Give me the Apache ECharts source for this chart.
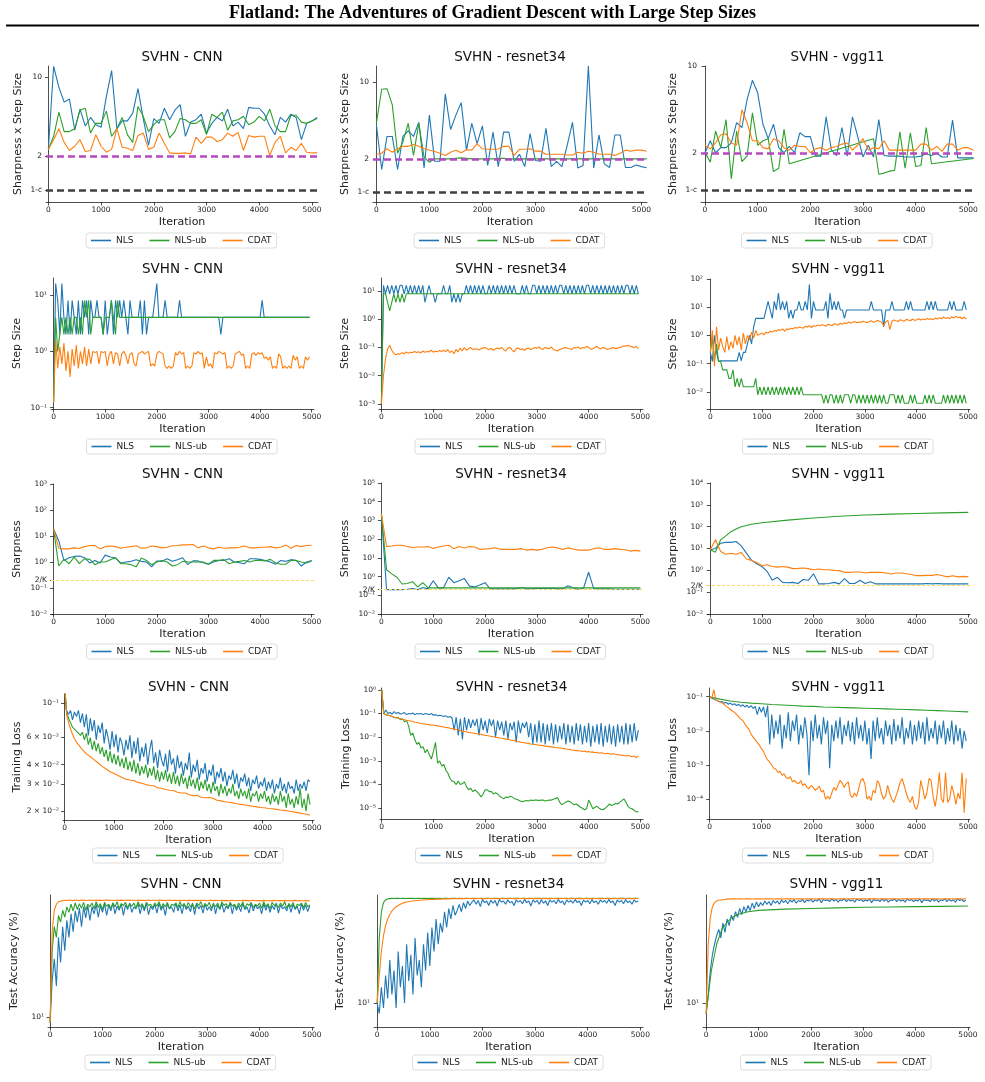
<!DOCTYPE html>
<html>
<head>
<meta charset="utf-8">
<title>Flatland - SVHN</title>
<script src="https://cdn.jsdelivr.net/npm/echarts@6.0.0/dist/echarts.min.js"></script>
<style>
  html, body { margin: 0; padding: 0; background: #fff; }
  #chart { width: 985px; height: 1082px; }
</style>
</head>
<body>
<div id="chart"></div>
<script>
// values (x spacing given where the arrays are used)
const SERIES_NAMES = ['NLS', 'NLS-ub', 'CDAT']
const ITER_TICKS = [0, 1000, 2000, 3000, 4000, 5000]

// row 1: sharpness x step size, every 100 iterations (0..5100)
const cnnSsNls = [2.32,12.4,8.1,6.0,6.4,3.4,5.2,3.7,4.4,3.8, 3.6,6.7,11.4,3.5,4.1,4.1,4.8,7.9,4.3,2.5, 4.3,3.9,5.3,4.2,5.1,5.7,3.0,4.0,4.2,4.7, 3.2,3.9,4.4,4.1,5.2,3.7,4.0,3.5,5.4,5.3, 5.3,4.7,3.7,3.1,4.4,4.0,4.7,4.4,2.8,3.9, 4.1,4.4]
const cnnSsUb = [2.3,3.0,4.9,3.3,3.3,3.5,5.1,5.3,3.2,3.9, 3.9,5.0,3.0,3.5,4.4,3.1,2.65,5.5,4.5,3.3, 3.8,4.2,4.2,2.9,3.3,4.3,4.2,3.9,3.9,4.2, 3.1,4.7,4.4,4.9,3.4,4.1,4.2,4.5,3.8,4.0, 4.5,4.1,5.2,3.7,3.3,3.3,4.6,4.6,4.0,3.9, 4.1,4.3]
const cnnSsCdat = [2.3,2.8,3.5,2.65,2.25,2.45,2.8,2.2,2.25,3.1, 2.45,2.17,2.3,3.5,2.4,2.35,2.25,3.05,3.2,2.3, 2.4,3.2,2.6,2.14,2.12,2.12,2.14,2.1,2.95,2.6, 2.95,2.95,2.7,2.8,3.2,3.0,3.25,2.25,3.05,2.95, 3.0,3.0,2.03,2.65,3.0,2.14,2.4,2.25,2.6,2.17, 2.14,2.14]
const resSsNls = [4.1,1.6,3.2,3.2,1.6,3.2,3.6,3.2,4.3,1.65, 5.0,1.9,1.9,7.8,3.7,5.0,6.5,2.4,4.2,2.75, 4.0,1.74,3.5,1.7,3.5,3.5,1.9,2.2,1.7,3.4, 1.93,1.9,3.8,1.7,1.9,1.7,2.65,4.3,1.65,1.74, 14.1,1.65,3.3,1.8,1.67,3.3,3.3,1.67,1.67,1.76, 1.7,1.66]
const resSsUb = [4.2,8.6,8.7,6.2,2.25,2.85,4.2,2.15,4.2,2.07, 1.86,2.0,2.0,2.0,2.0,2.02,2.04,2.02,2.0,2.0, 2.0,2.0,2.0,2.02,2.02,2.0,2.0,2.0,2.0,2.0, 2.0,2.0,2.0,2.0,2.0,2.0,2.0,2.0,2.0,2.0, 2.0,2.0,2.0,2.0,2.0,2.0,2.0,2.0,2.0,2.0, 2.0,2.0]
const resSsCdat = [2.2,2.25,2.47,2.3,2.47,2.6,2.6,2.7,2.6,2.47, 2.4,2.33,2.25,2.15,2.3,2.4,2.27,2.42,2.4,2.75, 2.47,2.45,2.45,2.46,2.6,2.6,2.15,2.45,2.45,2.47, 2.35,2.35,2.2,2.2,2.2,2.2,2.17,2.17,2.3,2.25, 2.35,2.3,2.2,2.2,2.2,2.15,2.25,2.4,2.35,2.4, 2.4,2.35]
const vggSsNls = [2.0,2.5,2.0,2.2,2.2,2.4,3.5,3.2,5.4,7.7, 6.1,3.4,2.6,3.4,2.2,2.0,2.25,2.0,2.9,2.7, 2.7,1.88,1.88,3.9,2.1,1.9,3.2,1.88,3.9,2.7, 1.85,2.3,1.85,3.7,1.9,1.88,1.88,1.88,1.85,1.85, 1.85,1.88,1.96,1.9,1.98,1.85,1.85,3.67,1.82,1.82, 1.82,1.82]
// NLS-ub on vgg11 has gaps in its samples: [iteration, value]
const vggSsUb = [[0,2.0],[100,1.68],[200,3.0],[300,2.2],[400,3.7],[500,1.23],[600,3.0],[700,1.7],[800,1.88],[900,4.2],[1000,2.3],[1100,2.5],[1200,2.6],[1300,1.41],[1400,1.5],[1500,3.1],[1600,1.63],[3200,2.6],[3300,1.34],[3400,1.37],[3500,1.42],[3600,1.44],[3700,2.95],[3800,1.5],[3900,2.9],[4000,1.55],[4100,1.58],[4200,3.2],[4300,1.63],[5100,1.8]]
const vggSsCdat = [2.3,2.15,2.4,2.8,2.85,2.4,2.3,4.45,3.5,2.5, 2.5,2.2,2.15,2.6,2.5,2.2,2.1,2.3,2.25,2.25, 2.0,2.15,2.2,2.1,2.2,2.25,2.35,2.4,2.1,2.3, 2.6,2.1,2.2,2.15,2.5,2.1,2.1,2.1,2.1,2.1, 2.1,2.35,2.35,2.1,2.25,2.05,2.35,2.35,2.1,2.2, 2.2,2.1]

// row 2: step size, every 40 iterations (0..4960)
const cnnStepNls = [0.125,16,8,2,16,4,2,8,2,8, 4,2,8,2,8,4,8,2,8,4, 4,8,4,4,2,8,2,4,8,2, 8,4,8,4,8,4,2,8,4,4, 4,4,8,2,8,2,4,4,4,8, 16,4,4,4,8,4,4,4,4,4, 4,8,4,4,4,4,4,4,4,4, 4,4,4,4,4,4,4,4,4,4, 4,2,4,4,4,4,4,4,4,4, 4,4,4,4,4,4,4,4,4,4, 4,8,4,4,4,4,4,4,4,4, 4,4,4,4,4,4,4,4,4,4, 4,4,4,4,4]
const cnnStepUb = [0.125,4,1,2,4,2,4,2,4,2, 4,4,2,4,2,8,4,8,2,4, 4,4,4,4,2,4,4,4,8,4, 2,8,4,4,4,4,4,4,4,4, 4,4,4,4,4,4,4,4,4,4, 4,4,4,4,4,4,4,4,4,4, 4,4,4,4,4,4,4,4,4,4, 4,4,4,4,4,4,4,4,4,4, 4,4,4,4,4,4,4,4,4,4, 4,4,4,4,4,4,4,4,4,4, 4,4,4,4,4,4,4,4,4,4, 4,4,4,4,4,4,4,4,4,4, 4,4,4,4,4]
const cnnStepCdat = [0.125,1.6,0.5,1.2,0.6,1.4,0.45,1.0,0.35,1.1, 0.55,1.3,0.5,1.0,0.6,1.2,0.55,1.1,0.6,1.0, 0.95,1.0,0.6,1.0,0.95,1.0,0.55,0.9,1.0,0.6, 0.95,0.9,0.55,0.9,1.0,0.85,0.6,0.9,0.95,0.6, 0.55,0.9,0.95,1.0,0.9,0.95,1.0,0.55,0.6,0.55, 0.9,1.0,0.95,0.9,0.55,0.5,0.55,0.5,0.55,0.95, 0.85,1.0,0.9,0.95,0.5,0.55,0.5,0.55,0.95,0.9, 1.0,0.9,0.95,0.5,0.8,0.55,0.6,0.5,0.95,0.9, 1.0,0.95,0.9,0.95,0.5,0.55,0.5,0.55,0.9,0.95, 1.0,0.85,0.9,0.5,0.55,0.5,0.9,0.95,0.85,0.95, 0.9,0.95,0.75,0.8,0.7,0.8,0.5,0.55,0.5,0.9, 0.8,0.5,0.55,0.5,0.55,0.5,0.85,0.7,0.8,0.5, 0.55,0.5,0.8,0.7,0.8]
const resStepNls = [0.001,16,8,16,8,16,8,16,8,16, 16,8,16,8,16,8,16,8,16,8, 16,4,8,16,8,8,4,8,8,8, 16,8,8,16,4,8,4,8,4,8, 8,16,8,16,8,16,8,16,8,16, 8,8,16,8,16,8,16,8,16,8, 16,8,16,8,16,8,8,8,16,8, 16,8,8,16,16,8,16,8,16,8, 16,8,16,8,16,8,16,16,8,16, 8,16,8,16,8,16,8,16,8,16, 16,8,16,8,16,8,16,8,16,8, 16,8,16,8,16,8,16,8,16,16, 8,16,8,16,8]
const resStepUb = [0.001,8,8,4,2,4,8,4,8,4, 8,4,8,8,8,8,8,8,8,8, 8,8,8,8,8,8,8,8,8,8, 8,8,8,8,8,8,8,8,8,8, 8,8,8,8,8,8,8,8,8,8, 8,8,8,8,8,8,8,8,8,8, 8,8,8,8,8,8,8,8,8,8, 8,8,8,8,8,8,8,8,8,8, 8,8,8,8,8,8,8,8,8,8, 8,8,8,8,8,8,8,8,8,8, 8,8,8,8,8,8,8,8,8,8, 8,8,8,8,8,8,8,8,8,8, 8,8,8,8,8]
const resStepCdat = [0.001,0.01,0.04,0.09,0.12,0.08,0.062,0.055,0.06,0.058, 0.065,0.06,0.07,0.062,0.068,0.065,0.072,0.066,0.07,0.064, 0.075,0.068,0.072,0.07,0.08,0.068,0.074,0.07,0.078,0.072, 0.08,0.07,0.085,0.066,0.075,0.06,0.085,0.07,0.095,0.075, 0.1,0.08,0.09,0.1,0.085,0.09,0.088,0.082,0.09,0.095, 0.1,0.09,0.085,0.092,0.08,0.09,0.095,0.088,0.1,0.085, 0.075,0.095,0.1,0.082,0.07,0.09,0.095,0.085,0.09,0.08, 0.09,0.095,0.085,0.09,0.1,0.092,0.105,0.09,0.085,0.1, 0.095,0.09,0.105,0.085,0.08,0.075,0.085,0.09,0.095,0.1, 0.092,0.09,0.085,0.1,0.095,0.105,0.09,0.1,0.095,0.11, 0.1,0.085,0.09,0.1,0.11,0.095,0.09,0.1,0.095,0.085, 0.09,0.095,0.1,0.09,0.095,0.1,0.105,0.115,0.11,0.12, 0.11,0.105,0.1,0.11,0.09]
const vggStepNls = [0.25,0.12,1,0.25,0.12,0.125,0.125,0.125,0.125,0.125, 0.125,0.125,0.125,0.125,0.25,0.125,0.25,0.25,0.5,1, 0.5,2,4,4,4,4,4,8,16,8, 4,16,8,32,8,16,8,16,4,8, 4,8,8,16,8,8,16,8,64,4, 16,8,8,8,8,8,16,4,32,8, 16,8,16,8,8,4,8,8,8,8, 8,8,8,8,8,8,8,8,16,8, 8,8,8,8,2,8,8,8,16,8, 8,8,8,8,8,16,8,16,8,8, 8,8,8,8,8,16,8,16,8,16, 8,8,8,8,8,8,16,8,16,8, 8,8,8,16,8]
const vggStepUb = [0.25,0.8,0.12,0.5,0.12,0.12,0.06,0.06,0.06,0.03, 0.03,0.06,0.015,0.03,0.015,0.03,0.015,0.015,0.015,0.015, 0.015,0.015,0.03,0.0078,0.015,0.0078,0.015,0.0078,0.015,0.0078, 0.015,0.0078,0.015,0.0078,0.015,0.0078,0.015,0.0078,0.015,0.0078, 0.015,0.0078,0.015,0.0078,0.015,0.0078,0.0078,0.0078,0.0078,0.0078, 0.0078,0.0078,0.0078,0.0078,0.0078,0.0039,0.0078,0.0039,0.0078,0.0078, 0.0039,0.0078,0.0039,0.0078,0.0039,0.0078,0.0078,0.0078,0.0039,0.0078, 0.0078,0.0039,0.0078,0.0039,0.0078,0.0039,0.0078,0.0039,0.0078,0.0039, 0.0078,0.0039,0.0078,0.0039,0.0078,0.0039,0.0039,0.0078,0.0078,0.0078, 0.0039,0.0078,0.0039,0.0078,0.0039,0.0039,0.0039,0.0078,0.0039,0.0078, 0.0039,0.0039,0.0039,0.0039,0.0078,0.0039,0.0078,0.0039,0.0078,0.0039, 0.0039,0.0039,0.0039,0.0078,0.0039,0.0078,0.0039,0.0078,0.0039,0.0078, 0.0039,0.0078,0.0039,0.0078,0.0039]
const vggStepCdat = [0.25,1.5,0.08,2,0.3,0.8,0.4,0.25,0.9,0.3, 0.6,0.35,1.0,0.45,0.9,0.3,1.2,0.5,1.0,0.7, 1.3,0.8,1.5,1.0,1.1,1.2,1.05,1.3,1.2,1.4, 1.3,1.5,1.4,1.6,1.5,1.7,1.4,1.7,1.6,1.8, 1.7,1.9,1.8,2.0,1.9,1.8,2.1,2.0,2.2,1.9, 2.2,2.1,2.3,2.2,2.4,2.3,2.1,2.5,2.4,2.2, 2.6,2.5,2.3,2.7,2.5,2.8,2.6,3.0,2.7,2.9, 3.1,2.8,3.0,2.9,3.2,3.0,2.8,3.1,3.3,2.9, 3.1,3.4,3.2,2.9,2.2,3.0,3.4,1.6,3.2,3.5, 3.3,3.1,3.6,3.4,3.2,3.7,3.5,3.3,3.8,3.4, 3.6,3.9,3.5,3.8,3.6,4.0,3.7,3.9,3.6,4.1, 3.8,4.2,3.9,4.5,4.0,4.3,3.9,4.6,4.1,4.8, 4.2,4.5,3.9,4.4,3.8]

// row 3: sharpness, every 100 iterations (0..5000)
const cnnSharpNls = [18.5,6.6,1.15,1.46,1.64,1.7,1.46,0.92,1.15,0.92, 1.84,1.55,1.42,0.92,1.0,1.06,1.23,1.06,1.0,0.65, 1.1,1.06,1.34,1.06,1.23,1.46,0.79,1.1,1.1,0.94, 0.82,1.0,1.15,1.15,1.34,1.0,0.94,0.86,1.34,1.34, 1.26,1.15,1.0,0.82,1.15,1.06,1.23,1.15,0.7,1.0, 1.15]
const cnnSharpUb = [18.5,0.7,1.26,0.86,1.55,0.86,1.34,1.26,0.79,1.0, 1.0,1.23,1.46,0.86,0.86,0.79,0.65,1.42,1.15,0.79, 1.0,1.15,1.0,0.7,0.79,1.06,1.0,1.0,1.0,1.0, 0.82,1.15,1.15,1.23,0.86,1.0,1.06,1.15,1.0,1.15, 1.15,1.1,1.26,0.92,0.82,0.82,1.15,1.15,1.0,0.92, 1.1]
const cnnSharpCdat = [18.5,3.4,3.2,3.2,3.5,3.3,3.9,4.3,4.3,3.2, 3.9,4.1,3.9,3.4,3.7,3.9,4.2,3.4,3.5,4.1, 3.9,3.5,3.7,4.2,4.3,4.55,4.55,4.7,3.5,4.1, 3.5,3.2,3.7,3.4,3.5,3.5,3.7,4.1,3.5,3.5, 3.7,3.7,3.9,3.5,3.7,4.55,3.4,4.3,3.9,4.3, 4.4]
const resSharpNls = [2300,0.2,0.2,0.2,0.2,0.21,0.23,0.2,0.26,0.22, 0.6,0.25,0.25,0.92,0.47,0.6,0.8,0.31,0.28,0.35, 0.47,0.22,0.22,0.22,0.22,0.22,0.22,0.26,0.22,0.22, 0.23,0.23,0.23,0.23,0.22,0.22,0.32,0.25,0.21,0.23, 1.7,0.22,0.22,0.22,0.22,0.21,0.21,0.21,0.21,0.21, 0.21]
const resSharpUb = [2300,2.3,1.4,0.92,0.4,0.43,0.53,0.28,0.47,0.25, 0.25,0.25,0.25,0.25,0.25,0.25,0.25,0.25,0.25,0.25, 0.25,0.25,0.25,0.25,0.25,0.25,0.25,0.25,0.25,0.25, 0.25,0.25,0.25,0.25,0.25,0.25,0.25,0.25,0.25,0.25, 0.25,0.25,0.25,0.25,0.25,0.25,0.25,0.25,0.25,0.25, 0.25]
const resSharpCdat = [2300,40,43,47,47,40,36,38,38,40, 32,38,43,47,31,40,34,40,38,28.5, 30,31,35,28.5,28.5,28.5,28.5,31,26,28.5, 26,28.5,35,38,34,28.5,34,30,26,26, 26,31,35,28.5,28.5,31,28.5,27,23,25, 23]
const vggSharpNls = [8.7,10,17.5,19,19,21,13.2,6.1,2.85,2.0, 1.5,0.9,0.35,0.48,0.28,0.27,0.28,0.25,0.38,0.35, 0.7,0.24,0.24,0.25,0.28,0.24,0.42,0.25,0.25,0.35, 0.25,0.3,0.24,0.24,0.24,0.24,0.24,0.24,0.24,0.24, 0.24,0.24,0.25,0.24,0.25,0.24,0.24,0.24,0.24,0.24, 0.24]
const vggSharpUb = [[0,8.7],[100,6.8],[200,25],[300,38],[400,59],[500,78],[600,100],[800,128],[1000,150],[1500,200],[2000,250],[2500,300],[3000,340],[3500,375],[4000,400],[4500,430],[5000,450]]
const vggSharpCdat = [8.7,25,7.3,5.5,6.1,5.5,6.6,3.3,2.85,2.3, 1.63,1.8,1.5,1.4,1.5,1.4,1.2,1.23,1.27,1.2, 1.07,1.15,1.07,1.07,1.0,0.97,0.81,0.81,0.84,0.84, 0.76,0.81,0.81,0.81,0.76,0.68,0.76,0.76,0.7,0.64, 0.57,0.57,0.59,0.59,0.64,0.57,0.5,0.57,0.5,0.53, 0.5]

// row 4: training loss, every 40 iterations (0..4960)
const cnnLossNls = [0.13,0.09,0.085,0.09,0.078,0.088,0.082,0.09,0.075,0.086, 0.07,0.085,0.062,0.08,0.066,0.078,0.058,0.072,0.064,0.075, 0.055,0.068,0.06,0.05,0.066,0.052,0.063,0.048,0.06,0.055, 0.046,0.058,0.05,0.062,0.044,0.057,0.047,0.06,0.042,0.052, 0.045,0.055,0.04,0.05,0.058,0.041,0.048,0.038,0.05,0.043, 0.039,0.047,0.036,0.05,0.04,0.044,0.035,0.046,0.038,0.042, 0.034,0.041,0.037,0.048,0.033,0.04,0.036,0.043,0.032,0.038, 0.035,0.041,0.031,0.037,0.034,0.04,0.03,0.036,0.033,0.038, 0.031,0.036,0.029,0.034,0.032,0.037,0.03,0.035,0.028,0.033, 0.031,0.035,0.029,0.033,0.027,0.032,0.03,0.034,0.028,0.031, 0.029,0.033,0.027,0.031,0.028,0.032,0.026,0.03,0.028,0.033, 0.027,0.03,0.026,0.031,0.028,0.029,0.026,0.032,0.027,0.03, 0.028,0.031,0.027,0.032,0.031]
const cnnLossUb = [0.13,0.088,0.08,0.075,0.07,0.072,0.066,0.068,0.062,0.065, 0.058,0.064,0.054,0.06,0.05,0.057,0.049,0.055,0.047,0.052, 0.045,0.05,0.042,0.049,0.041,0.047,0.04,0.046,0.039,0.044, 0.038,0.045,0.037,0.042,0.036,0.043,0.035,0.041,0.034,0.039, 0.035,0.04,0.033,0.038,0.034,0.039,0.032,0.037,0.031,0.036, 0.032,0.037,0.031,0.035,0.03,0.036,0.03,0.034,0.029,0.035, 0.03,0.033,0.028,0.034,0.029,0.032,0.028,0.033,0.027,0.031, 0.028,0.032,0.027,0.03,0.026,0.031,0.027,0.029,0.025,0.03, 0.026,0.029,0.025,0.028,0.026,0.03,0.025,0.027,0.024,0.028, 0.025,0.027,0.024,0.028,0.023,0.026,0.025,0.027,0.023,0.026, 0.024,0.027,0.023,0.025,0.022,0.026,0.023,0.025,0.022,0.027, 0.023,0.025,0.021,0.026,0.022,0.024,0.021,0.025,0.022,0.028, 0.021,0.024,0.02,0.026,0.022]
const cnnLossCdat = [0.13,0.085,0.075,0.068,0.063,0.059,0.056,0.054,0.052,0.05, 0.049,0.047,0.046,0.045,0.044,0.043,0.042,0.041,0.04,0.039, 0.038,0.0375,0.037,0.036,0.0355,0.035,0.0348,0.034,0.0336,0.033, 0.0327,0.0322,0.0325,0.0318,0.0314,0.0316,0.031,0.0307,0.031,0.0303, 0.03,0.0297,0.03,0.0293,0.029,0.0292,0.0286,0.0283,0.0286,0.0281, 0.028,0.0276,0.0279,0.0273,0.027,0.0272,0.0267,0.0265,0.0268,0.0262, 0.026,0.0262,0.0257,0.0255,0.0258,0.0252,0.025,0.0253,0.0248,0.0246, 0.0248,0.0244,0.0242,0.0245,0.024,0.0242,0.0237,0.0235,0.0238,0.0233, 0.0235,0.023,0.0232,0.0228,0.023,0.0226,0.0227,0.0223,0.0225,0.0221, 0.0222,0.0219,0.0221,0.0217,0.0218,0.0215,0.0217,0.0213,0.0215,0.0211, 0.0214,0.021,0.0212,0.0208,0.021,0.0207,0.0209,0.0205,0.0207,0.0203, 0.0205,0.0202,0.0204,0.02,0.0201,0.0198,0.02,0.0196,0.0197,0.0194, 0.0195,0.0192,0.0193,0.019,0.0188]
const resLossNls = [1.0,0.1,0.14,0.1,0.11,0.095,0.12,0.1,0.11,0.095, 0.1,0.11,0.09,0.1,0.095,0.105,0.09,0.1,0.095,0.1, 0.09,0.1,0.095,0.09,0.1,0.085,0.09,0.08,0.085,0.08, 0.075,0.08,0.07,0.075,0.065,0.02,0.07,0.012,0.06,0.008, 0.07,0.02,0.06,0.025,0.055,0.03,0.06,0.012,0.065,0.02, 0.05,0.015,0.06,0.03,0.055,0.01,0.05,0.02,0.045,0.012, 0.05,0.008,0.04,0.02,0.045,0.006,0.05,0.015,0.04,0.025, 0.045,0.01,0.04,0.005,0.035,0.006,0.05,0.006,0.04,0.005, 0.035,0.007,0.04,0.005,0.035,0.006,0.03,0.008,0.04,0.005, 0.035,0.006,0.03,0.005,0.04,0.007,0.035,0.005,0.03,0.006, 0.04,0.004,0.03,0.006,0.035,0.005,0.04,0.004,0.03,0.006, 0.035,0.005,0.03,0.004,0.035,0.006,0.03,0.005,0.04,0.005, 0.035,0.006,0.04,0.007,0.02]
const resLossUb = [1.0,0.1,0.09,0.085,0.08,0.075,0.07,0.065,0.068,0.055, 0.06,0.045,0.05,0.03,0.012,0.015,0.008,0.005,0.006,0.0035, 0.004,0.0022,0.003,0.0018,0.0012,0.0025,0.006,0.0008,0.001,0.0006, 0.0007,0.0004,0.0003,0.00018,0.00014,0.00013,0.0001,0.00014,0.0001,0.00011, 0.00013,0.00008,0.00006,0.00007,0.00005,0.00006,0.00005,0.00004,0.00003,0.00004, 0.00006,0.00006,0.00005,0.00005,0.00004,0.000045,0.00004,0.000032,0.000028,0.000025, 0.00003,0.000028,0.000032,0.00003,0.000026,0.000024,0.000022,0.00002,0.000019,0.00002, 0.000021,0.00002,0.000022,0.000021,0.000022,0.000022,0.000021,0.000022,0.000022,0.00002, 0.000021,0.000022,0.000022,0.000024,0.000026,0.000028,0.000018,0.000014,0.000016,0.000018, 0.00002,0.000019,0.000016,0.000014,0.000015,0.000013,0.000011,0.00001,0.0000086,0.0000095, 0.000022,0.000015,0.0000094,0.000011,0.000012,0.00001,0.000009,0.0000086,0.00001,0.000012, 0.000015,0.000013,0.000014,0.000016,0.000015,0.000018,0.000021,0.000025,0.000018,0.000012, 0.00001,0.0000095,0.000008,0.000007,0.0000072]
const resLossCdat = [1.0,0.1,0.09,0.085,0.08,0.075,0.07,0.068,0.063,0.06, 0.058,0.055,0.052,0.05,0.048,0.046,0.043,0.042,0.04,0.038, 0.037,0.036,0.035,0.034,0.033,0.032,0.031,0.03,0.029,0.028, 0.027,0.026,0.0255,0.024,0.023,0.022,0.021,0.02,0.019,0.018, 0.0175,0.017,0.016,0.0155,0.015,0.0145,0.014,0.0135,0.013,0.0125, 0.012,0.0118,0.0112,0.0108,0.0105,0.01,0.0096,0.0092,0.009,0.0087, 0.0083,0.008,0.0078,0.0072,0.0074,0.0068,0.0066,0.0062,0.006,0.0058, 0.0056,0.0055,0.0052,0.005,0.0049,0.0048,0.0046,0.0045,0.0044,0.0042, 0.0041,0.004,0.0039,0.0038,0.0037,0.0036,0.0035,0.0034,0.0033,0.0032, 0.0031,0.003,0.0029,0.0028,0.0027,0.0027,0.0026,0.0025,0.0026,0.0024, 0.0025,0.0023,0.0024,0.0022,0.0023,0.0021,0.0022,0.0021,0.002,0.0021, 0.002,0.0019,0.002,0.0019,0.0018,0.0018,0.0017,0.0017,0.0016,0.0017, 0.0016,0.0015,0.0016,0.0014,0.0016]
const vggLossNls = [0.1,0.09,0.085,0.08,0.075,0.07,0.072,0.065,0.068,0.06, 0.065,0.058,0.062,0.055,0.06,0.052,0.058,0.05,0.056,0.048, 0.055,0.045,0.052,0.03,0.05,0.035,0.05,0.025,0.055,0.004, 0.03,0.006,0.02,0.008,0.03,0.003,0.015,0.006,0.035,0.005, 0.02,0.01,0.03,0.004,0.015,0.006,0.025,0.008,0.0005,0.02, 0.005,0.03,0.006,0.015,0.004,0.025,0.008,0.02,0.0008,0.015, 0.005,0.02,0.006,0.025,0.004,0.015,0.007,0.02,0.005,0.018, 0.004,0.025,0.006,0.015,0.005,0.02,0.004,0.012,0.0015,0.02, 0.005,0.025,0.006,0.012,0.004,0.02,0.007,0.015,0.004,0.022, 0.005,0.015,0.006,0.025,0.004,0.012,0.006,0.02,0.004,0.015, 0.005,0.02,0.006,0.018,0.004,0.025,0.005,0.012,0.006,0.02, 0.004,0.015,0.006,0.02,0.004,0.012,0.005,0.02,0.004,0.015, 0.005,0.012,0.003,0.01,0.005]
// NLS-ub on vgg11 is smooth: every 200 iterations (0..5000)
const vggLossUb = [0.1,0.085,0.075,0.069,0.065,0.062,0.059,0.057,0.055,0.053, 0.052,0.05,0.049,0.048,0.047,0.046,0.045,0.044,0.043,0.042, 0.041,0.04,0.039,0.038,0.037,0.036]
const vggLossCdat = [0.1,0.09,0.16,0.08,0.075,0.07,0.065,0.06,0.052,0.048, 0.042,0.038,0.035,0.03,0.026,0.022,0.02,0.016,0.013,0.011, 0.008,0.0065,0.0055,0.0045,0.0038,0.003,0.0025,0.0018,0.0014,0.0012, 0.001,0.0008,0.00075,0.0006,0.00065,0.0005,0.00055,0.00042,0.0004,0.00045, 0.00032,0.00035,0.0003,0.00028,0.00035,0.00025,0.00028,0.00022,0.0002,0.00025, 0.00022,0.00018,0.0002,0.00024,0.00016,0.00018,0.0001,0.00012,0.0001,0.00015, 0.00022,0.00018,0.00025,0.00035,0.0003,0.00022,0.00028,0.00032,0.00013,0.00011, 0.00015,0.00012,0.0002,0.00035,0.0004,0.00028,0.0001,0.00012,0.00009,0.00018, 0.00015,0.00035,0.00028,0.00015,0.0001,0.00012,0.00025,0.00015,0.0001,0.00008, 0.00012,0.00018,0.0003,0.0004,0.00025,0.00015,0.0001,0.00008,0.00012,0.00006, 0.00005,0.00008,0.00035,0.0002,0.0001,0.00015,0.0004,0.00035,0.00012,0.00006, 0.00015,0.0006,0.0001,0.00008,0.0006,0.00008,0.0001,0.00025,0.00015,0.00007, 0.00015,0.0001,0.0006,0.00004,0.0004]

// row 5: test accuracy (%), every 40 iterations (0..4960)
const cnnAccNls = [9,20,30,18,45,28,55,35,62,45, 70,50,74,60,78,55,80,65,82,62, 80,70,84,66,82,72,85,68,83,74, 86,70,81,75,85,68,83,76,86,72, 80,77,85,70,83,74,86,69,81,76, 84,71,86,75,82,68,85,77,80,72, 86,74,83,70,85,76,81,73,86,69, 84,77,82,71,85,75,80,74,86,70, 83,76,85,72,81,77,86,70,84,75, 82,73,85,76,80,71,86,74,83,77, 81,70,85,75,84,72,82,76,86,71, 83,77,80,74,85,72,84,76,81,70, 85,75,83,73,82]
const cnnAccUb = [9,35,55,45,68,60,75,66,80,72, 84,74,86,76,85,78,87,75,84,80, 86,77,88,79,85,76,87,81,84,78, 86,80,88,77,85,82,87,79,84,81, 86,78,88,80,85,77,87,82,84,79, 86,81,88,78,85,80,87,77,84,82, 86,79,88,81,85,78,87,80,84,77, 86,82,88,79,85,81,87,78,84,80, 86,77,88,82,85,79,87,81,84,78, 86,80,88,77,85,82,87,79,84,81, 86,78,88,80,85,77,87,82,84,79, 86,81,88,78,85,80,87,77,84,82, 86,79,87,80,83]
const cnnAccCdat = [9,50,75,84,88,89,90,90.5,90,91, 90.5,90,91,90.5,90,90.8,91,90.2,90.6,91, 90.6,90.2,91,90.4,90.8,90,90.6,91,90.3,90.7, 90.6,90.2,91,90.4,90.8,90,90.6,91,90.3,90.7, 90.5,90.1,90.9,90.3,90.7,89.9,90.5,90.9,90.2,90.6, 90.5,90.1,90.9,90.3,90.7,89.9,90.5,90.9,90.2,90.6, 90.3,89.9,90.7,90.1,90.5,89.7,90.3,90.7,90,90.4, 90.3,89.9,90.7,90.1,90.5,89.7,90.3,90.7,90,90.4, 90.1,89.7,90.5,89.9,90.3,89.5,90.1,90.5,89.8,90.2, 90.1,89.7,90.5,89.9,90.3,89.5,90.1,90.5,89.8,90.2, 89.9,89.5,90.3,89.7,90.1,89.3,89.9,90.3,89.6,90, 89.9,89.5,90.3,89.7,90.1,89.3,89.9,90.3,89.6,90, 89.7,89.3,90.1,89.5,89.8]
const resAccNls = [10,8,14,9,18,11,25,12,20,9, 30,14,22,10,35,16,28,12,40,18, 25,14,35,20,45, 22,50,30,60,35,55,45,70,50,75, 60,80,65,72,82,70,85,75,88,80, 86,90,82,89,78,91,85,88,80,90, 84,89,79,91,86,88,82,90,85,87, 80,90,86,89,83,91,85,88,79,90, 86,89,82,91,84,88,80,90,86,89, 83,91,85,88,81,90,86,89,84,91, 85,88,80,90,86,89,83,91,85,88, 82,90,86,89,84,91,85,88,80,90, 86,89,83,91,85,88,82,90,86,88]
const resAccUb = [10,40,70,85,90,92,92.5,93,92.8,93, 93.2,92.9,93.1,93.3,92.9,93.2,93,93.3,92.8,93.1, 93.2,92.9,93.1,93.3,92.9,93.2,93,93.3,92.8,93.1, 93.2,92.9,93.1,93.3,92.9,93.2,93,93.3,92.8,93.1, 93.2,92.9,93.1,93.3,92.9,93.2,93,93.3,92.8,93.1, 93.2,92.9,93.1,93.3,92.9,93.2,93,93.3,92.8,93.1, 93.2,92.9,93.1,93.3,92.9,93.2,93,93.3,92.8,93.1, 93.2,92.9,93.1,93.3,92.9,93.2,93,93.3,92.8,93.1, 93.2,92.9,93.1,93.3,92.9,93.2,93,93.3,92.8,93.1, 93.2,92.9,93.1,93.3,92.9,93.2,93,93.3,92.8,93.1, 93.2,92.9,93.1,93.3,92.9,93.2,93,93.3,92.8,93.1, 93.2,92.9,93.1,93.3,92.9,93.2,93,93.3,92.8,93.1, 93.2,92.9,93.1,93.3,93]
const resAccCdat = [10,18,30,42,52,60,66,71,75,78, 80,82,84,85,86,87,87.5,88,88.5,89, 89.5,90,90,90.5,90.5,91,91,91,91.5,91.5, 91.5,92,92,92,92,92.5,92.3,92.6,92.4,92.7, 92.5,92.8,92.6,92.9,92.7,92.5,92.8,92.6,92.9,92.7, 92.5,92.8,92.6,92.9,92.7,92.5,92.8,92.6,92.9,92.7, 92.5,92.8,92.6,92.9,92.7,92.5,92.8,92.6,92.9,92.7, 92.5,92.8,92.6,92.9,92.7,92.5,92.8,92.6,92.9,92.7, 92.5,92.8,92.6,92.9,92.7,92.5,92.8,92.6,92.9,92.7, 92.5,92.8,92.6,92.9,92.7,92.5,92.8,92.6,92.9,92.7, 92.5,92.8,92.6,92.9,92.7,92.5,92.8,92.6,92.9,92.7, 92.5,92.8,92.6,92.9,92.7,92.5,92.8,92.6,92.9,92.7, 92.5,92.8,92.6,92.9,92.7]
const vggAccNls = [8,12,20,28,35,42,48,40,55,45, 60,52,65,58,70,62,75,66,78,70, 80,72,84,75,86,78,85,80,88,82, 87,80,89,84,88,82,90,85,89,83, 90,86,91,84,89,87,91,85,90,88, 91,86,90,88,92,85,91,89,90,87, 92,88,91,86,90,89,92,87,91,88, 90,86,92,89,91,87,90,88,92,85, 91,89,90,87,92,88,91,86,90,89, 92,87,91,88,90,86,92,89,91,87, 90,88,92,85,91,89,90,87,92,88, 91,86,90,89,92,87,91,88,90,86, 92,89,91,87,90]
// NLS-ub on vgg11 is smooth: [iteration, value]
const vggAccUb = [[0,8],[100,20],[200,35],[300,48],[400,56],[500,62],[600,66],[800,70],[1000,72],[1500,74],[2000,75],[2500,76],[3000,77],[3500,77.5],[4000,78],[4500,78.5],[5000,79]]
const vggAccCdat = [8,35,62,78,85,88,89.5,90,90.5,91, 91.5,91.5,92,92,92.2,91.8,92.1,92.3,91.9,92.2, 92,92.3,91.9,92.1,92.4,92,92.2,91.8,92.3,92.1, 92,92.3,91.9,92.1,92.4,92,92.2,91.8,92.3,92.1, 92,92.3,91.9,92.1,92.4,92,92.2,91.8,92.3,92.1, 92,92.3,91.9,92.1,92.4,92,92.2,91.8,92.3,92.1, 92,92.3,91.9,92.1,92.4,92,92.2,91.8,92.3,92.1, 92,92.3,91.9,92.1,92.4,92,92.2,91.8,92.3,92.1, 92,92.3,91.9,92.1,92.4,92,92.2,91.8,92.3,92.1, 92,92.3,91.9,92.1,92.4,92,92.2,91.8,92.3,92.1, 92,92.3,91.9,92.1,92.4,92,92.2,91.8,92.3,92.1, 92,92.3,91.9,92.1,92.4,92,92.2,91.8,92.3,92.1, 92,92.3,91.9,92.1,92.2]

// ---- axis tick labels ----
const SUP = { '-': '\u207b', '0': '\u2070', '1': '\u00b9', '2': '\u00b2', '3': '\u00b3', '4': '\u2074', '5': '\u2075', '6': '\u2076', '7': '\u2077', '8': '\u2078', '9': '\u2079' }
function pow10 (e) { return '10' + String(e).split('').map(c => SUP[c]).join('') }
function decades (lo, hi, extra) {
  const v = []; const l = []
  for (let e = lo; e <= hi; e++) { v.push(Number('1e' + e)); l.push(pow10(e)) }
  if (extra) { v.push(extra[0]); l.push(extra[1]) }
  return { v, l }
}
const SS_TICKS = { v: [1, 2, 10], l: ['1-c', '2', '10'] }
const CNN_LOSS_TICKS = { v: [0.02, 0.03, 0.04, 0.06, 0.1], l: ['2 \u00d7 10\u207b\u00b2', '3 \u00d7 10\u207b\u00b2', '4 \u00d7 10\u207b\u00b2', '6 \u00d7 10\u207b\u00b2', '10\u207b\u00b9'] }

const FONT = 'DejaVu Sans'
const COLORS = ['#1f77b4', '#2ca02c', '#ff7f0e']
const TEXT = '#222'

function xy (vals, step) { return vals.map((v, i) => [i * step, v]) }

const TITLE_Y = [57, 269, 474, 687, 884]
const LEGEND_Y = [233, 439, 644, 848, 1055]

const PANELS = [
  { r: 0, t: 'SVHN - CNN', yn: 'Sharpness x Step Size', gap: 22, box: [46, 66, 318, 202], x: [-45, 5115], y: [0.79, 12.5], tk: SS_TICKS, ref: 'ss',
    d: [xy(cnnSsNls, 100), xy(cnnSsUb, 100), xy(cnnSsCdat, 100)] },
  { r: 0, t: 'SVHN - resnet34', yn: 'Sharpness x Step Size', gap: 22, box: [373, 66, 647, 202], x: [-64, 5106], y: [0.81, 14], tk: SS_TICKS, ref: 'ss',
    d: [xy(resSsNls, 100), xy(resSsUb, 100), xy(resSsCdat, 100)] },
  { r: 0, t: 'SVHN - vgg11', yn: 'Sharpness x Step Size', gap: 22, box: [701, 66, 974, 202], x: [-76, 5108], y: [0.8, 10.05], tk: SS_TICKS, ref: 'ss',
    d: [xy(vggSsNls, 100), vggSsUb, xy(vggSsCdat, 100)] },

  { r: 1, t: 'SVHN - CNN', yn: 'Step Size', gap: 28, box: [51, 278, 314, 409], x: [-50, 5045], y: [0.095, 20], tk: decades(-1, 1),
    d: [xy(cnnStepNls, 40), xy(cnnStepUb, 40), xy(cnnStepCdat, 40)] },
  { r: 1, t: 'SVHN - resnet34', yn: 'Step Size', gap: 28, box: [379, 278, 643, 409], x: [-46, 5050], y: [0.00066, 29], tk: decades(-3, 1),
    d: [xy(resStepNls, 40), xy(resStepUb, 40), xy(resStepCdat, 40)] },
  { r: 1, t: 'SVHN - vgg11', yn: 'Step Size', gap: 28, box: [707, 279, 970, 409], x: [-64, 5033], y: [0.00245, 100], tk: decades(-2, 2),
    d: [xy(vggStepNls, 40), xy(vggStepUb, 40), xy(vggStepCdat, 40)] },

  { r: 2, t: 'SVHN - CNN', yn: 'Sharpness', gap: 28, box: [51, 484, 314, 614], x: [-50, 5045], y: [0.01, 1000], tk: decades(-2, 3, [0.2, '2/K']), ref: 'k',
    d: [xy(cnnSharpNls, 100), xy(cnnSharpUb, 100), xy(cnnSharpCdat, 100)] },
  { r: 2, t: 'SVHN - resnet34', yn: 'Sharpness', gap: 28, box: [379, 483, 643, 614], x: [-46, 5050], y: [0.01, 100000], tk: decades(-2, 5, [0.2, '2/K']), ref: 'k',
    d: [xy(resSharpNls, 100), xy(resSharpUb, 100), xy(resSharpCdat, 100)] },
  { r: 2, t: 'SVHN - vgg11', yn: 'Sharpness', gap: 28, box: [707, 483, 970, 614], x: [-64, 5033], y: [0.01, 10000], tk: decades(-2, 4, [0.2, '2/K']), ref: 'k',
    d: [xy(vggSharpNls, 100), vggSharpUb, xy(vggSharpCdat, 100)] },

  { r: 3, t: 'SVHN - CNN', yn: 'Training Loss', gap: 40, box: [63, 694, 314, 820], x: [-32, 5040], y: [0.0175, 0.115], tk: CNN_LOSS_TICKS,
    d: [xy(cnnLossNls, 40), xy(cnnLossUb, 40), xy(cnnLossCdat, 40)] },
  { r: 3, t: 'SVHN - resnet34', yn: 'Training Loss', gap: 28, box: [380, 688, 643, 819], x: [-33, 5050], y: [0.0000035, 1.2], tk: decades(-5, 0),
    d: [xy(resLossNls, 40), xy(resLossUb, 40), xy(resLossCdat, 40)] },
  { r: 3, t: 'SVHN - vgg11', yn: 'Training Loss', gap: 28, box: [707, 688, 970, 819], x: [-52, 5033], y: [0.000026, 0.18], tk: decades(-4, -1),
    d: [xy(vggLossNls, 40), xy(vggLossUb, 200), xy(vggLossCdat, 40)] },

  { r: 4, t: 'SVHN - CNN', yn: 'Test Accuracy (%)', gap: 28, box: [48, 895, 314, 1027], x: [-40, 5040], y: [8.3, 100], tk: decades(1, 1),
    d: [xy(cnnAccNls, 40), xy(cnnAccUb, 40), xy(cnnAccCdat, 40)] },
  { r: 4, t: 'SVHN - resnet34', yn: 'Test Accuracy (%)', gap: 28, box: [374, 895, 643, 1027], x: [-60, 5050], y: [6, 100], tk: decades(1, 1),
    d: [xy(resAccNls, 40), xy(resAccUb, 40), xy(resAccCdat, 40)] },
  { r: 4, t: 'SVHN - vgg11', yn: 'Test Accuracy (%)', gap: 28, box: [703, 895, 970, 1027], x: [-60, 5040], y: [6, 100], tk: decades(1, 1),
    d: [xy(vggAccNls, 40), vggAccUb, xy(vggAccCdat, 40)] }
]

function labelFor (tk, v) {
  for (let i = 0; i < tk.v.length; i++) {
    if (Math.abs(tk.v[i] - v) <= Math.abs(v) * 1e-6) return tk.l[i]
  }
  return ''
}

function refLines (kind) {
  if (kind === 'ss') {
    return [
      { yAxis: 2, lineStyle: { color: '#b648c0', width: 2.5, type: [7, 4] } },
      { yAxis: 1, lineStyle: { color: '#404040', width: 2.5, type: [7, 4] } }
    ]
  }
  return [{ yAxis: 0.2, lineStyle: { color: '#ffd75e', width: 1, type: [3, 2] } }]
}

const option = {
  animation: false,
  textStyle: { fontFamily: FONT },
  title: [],
  grid: [],
  xAxis: [],
  yAxis: [],
  legend: [],
  series: [],
  graphic: [
    { type: 'text', left: 'center', top: 4,
      style: { text: 'Flatland: The Adventures of Gradient Descent with Large Step Sizes', font: 'bold 18px "Liberation Serif"', fill: '#000' } },
    { type: 'line', shape: { x1: 6, y1: 25.5, x2: 979, y2: 25.5 }, style: { stroke: '#000', lineWidth: 2 } }
  ]
}

PANELS.forEach((p, i) => {
  const [l, t, r, b] = p.box
  const cx = (l + r) / 2
  option.grid.push({ left: l, top: t, width: r - l, height: b - t, outerBoundsMode: 'none' })
  option.title.push({
    text: p.t, left: cx, top: TITLE_Y[p.r] - 8, textAlign: 'center', padding: 0,
    textStyle: { fontFamily: FONT, fontSize: 13.5, fontWeight: 'normal', color: '#111', lineHeight: 16 }
  })
  option.xAxis.push({
    gridIndex: i, type: 'value', min: p.x[0], max: p.x[1],
    name: 'Iteration', nameLocation: 'middle', nameGap: 15,
    nameTextStyle: { fontFamily: FONT, fontSize: 11, color: TEXT },
    axisLine: { show: true, onZero: false, lineStyle: { color: TEXT, width: 0.8 } },
    axisTick: { show: true, length: 3.5, customValues: ITER_TICKS, lineStyle: { color: TEXT, width: 0.8 } },
    axisLabel: { customValues: ITER_TICKS, formatter: v => String(Math.round(v)), fontFamily: FONT, fontSize: 7.5, color: TEXT, margin: 4 },
    splitLine: { show: false }
  })
  option.yAxis.push({
    gridIndex: i, type: 'log', logBase: 10, min: p.y[0], max: p.y[1],
    name: p.yn, nameLocation: 'middle', nameGap: p.gap, nameRotate: 90,
    nameTextStyle: { fontFamily: FONT, fontSize: 11, color: TEXT },
    axisLine: { show: true, lineStyle: { color: TEXT, width: 0.8 } },
    axisTick: { show: true, length: 3.5, customValues: p.tk.v, lineStyle: { color: TEXT, width: 0.8 } },
    axisLabel: { customValues: p.tk.v, formatter: v => labelFor(p.tk, v), fontFamily: FONT, fontSize: 7.5, color: TEXT, margin: 4 },
    splitLine: { show: false }
  })
  option.legend.push({
    data: SERIES_NAMES, left: cx - 96, top: LEGEND_Y[p.r], orient: 'horizontal',
    icon: 'rect', itemWidth: 20, itemHeight: 1.6, itemGap: 16,
    padding: [3, 5], borderColor: '#d4d4d4', borderWidth: 0.8, borderRadius: 3,
    textStyle: { fontFamily: FONT, fontSize: 9, color: TEXT }, selectedMode: false
  })
  SERIES_NAMES.forEach((name, k) => {
    const s = {
      type: 'line', name, xAxisIndex: i, yAxisIndex: i, data: p.d[k],
      symbol: 'none', showSymbol: false, clip: true, z: 2 + k,
      lineStyle: { color: COLORS[k], width: 1.1 }, itemStyle: { color: COLORS[k] }
    }
    if (k === 0 && p.ref) {
      s.markLine = { silent: true, symbol: 'none', label: { show: false }, animation: false, data: refLines(p.ref) }
    }
    option.series.push(s)
  })
})

const chart = echarts.init(document.getElementById('chart'), null, { renderer: 'canvas' })
chart.setOption(option)
</script>
</body>
</html>
